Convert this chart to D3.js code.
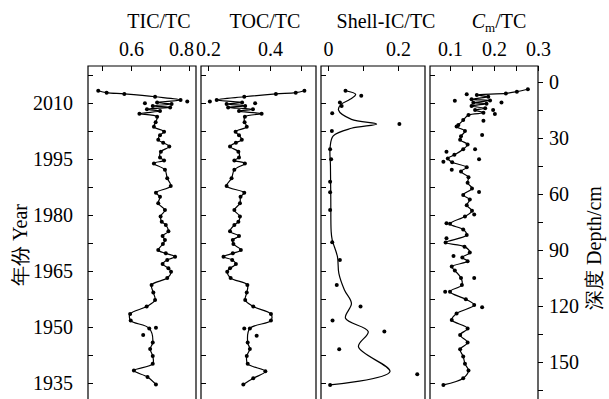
<!DOCTYPE html>
<html>
<head>
<meta charset="utf-8">
<script src="https://cdn.jsdelivr.net/npm/d3@7"></script>
<style>
  body { margin: 0; background: #fff; }
  svg text { font-family: "Liberation Serif", "Times New Roman", serif; fill: #000; }
</style>
</head>
<body>
<div id="chart"></div>
<script>
// depth (cm) of each sample on the line, and its value
const ticDepth = [4.7, 5.7, 6.4, 7.9, 9.6, 11.0, 11.8, 12.8, 13.6, 14.6, 15.6, 17.0, 18.6, 21.5, 24.0, 26.6, 28.5, 31.0, 32.5, 34.6, 37.3, 40.5, 42.0, 43.6, 47.0, 51.6, 55.7, 59.3, 61.5, 65.0, 68.6, 72.0, 74.8, 76.6, 80.0, 82.5, 84.6, 86.8, 90.0, 91.8, 93.6, 95.3, 97.5, 99.8, 101.6, 105.0, 108.7, 112.8, 116.8, 120.3, 124.3, 127.8, 132.0, 139.6, 143.0, 146.8, 151.0, 154.6, 158.0, 162.0]
const ticValue = [0.487, 0.516, 0.577, 0.683, 0.771, 0.69, 0.74, 0.675, 0.735, 0.655, 0.70, 0.629, 0.69, 0.685, 0.679, 0.714, 0.70, 0.694, 0.711, 0.732, 0.703, 0.70, 0.714, 0.679, 0.717, 0.725, 0.737, 0.686, 0.70, 0.694, 0.717, 0.702, 0.706, 0.72, 0.729, 0.709, 0.717, 0.71, 0.694, 0.72, 0.752, 0.725, 0.709, 0.729, 0.738, 0.725, 0.671, 0.677, 0.683, 0.654, 0.597, 0.599, 0.663, 0.675, 0.666, 0.675, 0.675, 0.61, 0.657, 0.686]
const ticOutDepth = [10.5, 11.4, 131.6, 135.5]
const ticOutValue = [0.794, 0.648, 0.686, 0.642]

const tocDepth = [4.7, 5.7, 6.4, 7.9, 9.6, 11.0, 11.8, 12.8, 13.6, 14.6, 15.6, 17.0, 18.6, 21.5, 24.0, 26.6, 28.5, 31.0, 32.5, 34.6, 37.3, 40.5, 42.0, 43.6, 47.0, 51.6, 55.7, 59.3, 61.5, 65.0, 68.6, 72.0, 74.8, 76.6, 80.0, 82.5, 84.6, 86.8, 90.0, 91.8, 93.6, 95.3, 97.5, 99.8, 101.6, 105.0, 108.7, 112.8, 116.8, 120.3, 124.3, 127.8, 132.0, 139.6, 143.0, 146.8, 151.0, 155.0, 158.7, 162.0]
const tocValue = [0.511, 0.483, 0.419, 0.317, 0.228, 0.31, 0.26, 0.32, 0.265, 0.345, 0.30, 0.373, 0.319, 0.318, 0.325, 0.289, 0.30, 0.309, 0.29, 0.271, 0.298, 0.30, 0.285, 0.319, 0.285, 0.276, 0.26, 0.317, 0.305, 0.303, 0.285, 0.303, 0.298, 0.285, 0.271, 0.30, 0.28, 0.282, 0.306, 0.28, 0.25, 0.278, 0.29, 0.271, 0.262, 0.273, 0.327, 0.325, 0.32, 0.346, 0.403, 0.403, 0.335, 0.328, 0.335, 0.325, 0.328, 0.385, 0.346, 0.314]
const tocOutDepth = [10.5, 11.4, 132.0, 135.9]
const tocOutValue = [0.206, 0.352, 0.317, 0.357]

// shell-IC: measured points and the smoothed curve
const shellDepth = [4.7, 7.3, 11.0, 12.9, 16.8, 22.5, 26.3, 36.0, 41.4, 53.4, 59.0, 68.6, 85.9, 95.4, 108.7, 120.3, 127.8, 133.7, 143.2, 156.6, 162.3]
const shellValue = [0.05, 0.095, 0.034, 0.039, 0.012, 0.204, 0.011, 0.006, 0.009, 0.006, 0.006, 0.006, 0.012, 0.034, 0.025, 0.093, 0.013, 0.161, 0.032, 0.255, 0.006]
const shellCurveDepth = [4.7, 6.6, 9.3, 12.0, 15.0, 20.0, 22.5, 24.8, 28.9, 35.0, 45.0, 63.0, 80.0, 84.6, 93.6, 102.5, 111.4, 118.6, 126.6, 133.7, 141.8, 155.2, 162.3]
const shellCurveValue = [0.05, 0.079, 0.063, 0.037, 0.03, 0.067, 0.139, 0.067, 0.015, 0.006, 0.007, 0.008, 0.009, 0.012, 0.027, 0.031, 0.047, 0.067, 0.05, 0.115, 0.087, 0.177, 0.006]

const cmDepth = [3.9, 5.2, 6.1, 7.0, 7.9, 9.3, 9.9, 11.1, 11.6, 12.9, 14.1, 15.0, 16.5, 17.7, 20.4, 23.0, 23.9, 26.3, 29.0, 31.0, 33.5, 36.0, 39.0, 41.0, 43.0, 45.7, 48.0, 51.0, 54.0, 57.0, 60.5, 63.0, 66.0, 69.0, 72.0, 76.0, 79.0, 82.0, 86.0, 88.2, 91.4, 94.0, 96.0, 98.9, 101.0, 105.0, 108.7, 112.3, 116.4, 119.5, 124.0, 127.5, 132.0, 135.5, 139.6, 143.2, 147.0, 151.0, 154.6, 158.7, 162.3]
const cmValue = [0.277, 0.252, 0.227, 0.161, 0.187, 0.149, 0.191, 0.153, 0.183, 0.149, 0.18, 0.157, 0.176, 0.142, 0.13, 0.119, 0.115, 0.134, 0.125, 0.123, 0.14, 0.13, 0.11, 0.095, 0.105, 0.138, 0.125, 0.142, 0.14, 0.15, 0.13, 0.145, 0.138, 0.15, 0.134, 0.10, 0.13, 0.138, 0.09, 0.133, 0.145, 0.128, 0.14, 0.104, 0.111, 0.125, 0.127, 0.10, 0.136, 0.155, 0.115, 0.104, 0.14, 0.123, 0.14, 0.123, 0.13, 0.134, 0.142, 0.13, 0.085]
const cmOutDepth = [6.6, 10.0, 11.0, 15.0, 17.1, 20.7, 28.4, 36.0, 37.3, 41.4, 42.7, 47.0, 58.9, 71.0, 75.7, 83.7, 93.2, 105.0, 112.3, 120.7]
const cmOutValue = [0.138, 0.111, 0.217, 0.198, 0.202, 0.176, 0.173, 0.157, 0.092, 0.166, 0.085, 0.104, 0.166, 0.155, 0.092, 0.092, 0.108, 0.155, 0.089, 0.173]

const yearTicks = [2010, 1995, 1980, 1965, 1950, 1935]
const depthTicks = [0, 30, 60, 90, 120, 150]

const width = 609, height = 399
const frameTop = 66

const svg = d3.select('#chart').append('svg')
    .attr('width', width)
    .attr('height', height)

const y = d3.scaleLinear().domain([0, 150]).range([82, 362])
const yYear = d3.scaleLinear().domain([2010, 1935]).range([103, 383])

const zip = (a, b) => a.map((d, i) => [d, b[i]])

const panels = [
    { x0: 88, x1: 196, dom: [0.5, 0.8], rng: [102, 189], ticks: [0.5, 0.6, 0.7, 0.8], labels: [0.6, 0.8],
      title: 'TIC/TC', tx: 159,
      line: zip(ticDepth, ticValue), dots: zip(ticDepth, ticValue).concat(zip(ticOutDepth, ticOutValue)) },
    { x0: 201, x1: 316, dom: [0.2, 0.4], rng: [208, 270], ticks: [0.2, 0.3, 0.4, 0.5], labels: [0.2, 0.4],
      title: 'TOC/TC', tx: 265,
      line: zip(tocDepth, tocValue), dots: zip(tocDepth, tocValue).concat(zip(tocOutDepth, tocOutValue)) },
    { x0: 321, x1: 425, dom: [0, 0.2], rng: [328, 398], ticks: [0, 0.1, 0.2], labels: [0, 0.2],
      title: 'Shell-IC/TC', tx: 386,
      line: zip(shellCurveDepth, shellCurveValue), dots: zip(shellDepth, shellValue) },
    { x0: 430, x1: 538, dom: [0.1, 0.3], rng: [450, 538], ticks: [0.1, 0.15, 0.2, 0.25, 0.3], labels: [0.1, 0.2, 0.3],
      title: 'Cm/TC', tx: 499,
      line: zip(cmDepth, cmValue), dots: zip(cmDepth, cmValue).concat(zip(cmOutDepth, cmOutValue)) },
]

panels.forEach((p, k) => {
    const x = d3.scaleLinear().domain(p.dom).range(p.rng)
    const g = svg.append('g')

    // frame, open at the bottom
    g.append('path')
        .attr('d', `M${p.x0},${height + 5}V${frameTop}H${p.x1}V${height + 5}`)
        .attr('fill', 'none')
        .attr('stroke', '#000')
        .attr('stroke-width', 1.2)

    const ax = g.append('g')
        .attr('transform', `translate(0,${frameTop})`)
        .call(d3.axisTop(x).tickValues(p.ticks).tickSize(-5).tickPadding(10)
            .tickFormat(d => p.labels.includes(d) ? d3.format('.1~f')(d) : ''))
    ax.select('.domain').remove()
    ax.selectAll('line').attr('stroke-width', 1)
    ax.selectAll('text').attr('font-size', 20).style('font-family', '"Liberation Serif", serif')
    if (k === 0) ax.selectAll('text').filter(d => d === 0.8).attr('dx', -8)

    // year ticks on the left edge of every panel
    const yt = g.append('g')
        .attr('transform', `translate(${p.x0},0)`)
        .call(d3.axisLeft(yYear).tickValues(d3.range(2017.5, 1927, -7.5)).tickSize(-5).tickFormat(''))
    yt.select('.domain').remove()

    const line = d3.line()
        .x(d => x(d[1]))
        .y(d => y(d[0]))
        .curve(d3.curveCatmullRom.alpha(0.5))

    g.append('path')
        .datum(p.line)
        .attr('d', line)
        .attr('fill', 'none')
        .attr('stroke', '#000')
        .attr('stroke-width', 1.2)

    g.selectAll('circle')
        .data(p.dots)
        .enter().append('circle')
        .attr('cx', d => x(d[1]))
        .attr('cy', d => y(d[0]))
        .attr('r', 2)
        .attr('fill', '#000')

    const t = svg.append('text')
        .attr('x', p.tx)
        .attr('y', 28)
        .attr('text-anchor', 'middle')
        .attr('font-size', 20)
    if (p.title === 'Cm/TC') {
        t.append('tspan').attr('font-style', 'italic').text('C')
        t.append('tspan').attr('font-size', 13).attr('dy', 4).text('m')
        t.append('tspan').attr('dy', -4).text('/TC')
    } else {
        t.text(p.title)
    }
})

// year labels on the left
const yl = svg.append('g')
    .attr('transform', 'translate(88,0)')
    .call(d3.axisLeft(yYear).tickValues(yearTicks).tickSize(0).tickPadding(15).tickFormat(d3.format('d')))
yl.select('.domain').remove()
yl.selectAll('text').attr('font-size', 20).style('font-family', '"Liberation Serif", serif')

// depth axis on the right, ticks outward
const yr = svg.append('g')
    .attr('transform', 'translate(538,0)')
    .call(d3.axisRight(y).tickValues(d3.range(0, 166, 15)).tickSize(5).tickPadding(6)
        .tickFormat(d => depthTicks.includes(d) ? d : ''))
yr.select('.domain').remove()
yr.selectAll('text').attr('font-size', 20).style('font-family', '"Liberation Serif", serif')

svg.append('text')
    .attr('transform', 'translate(27,245) rotate(-90)')
    .attr('text-anchor', 'middle')
    .attr('font-size', 20)
    .text('年份 Year')

svg.append('text')
    .attr('transform', 'translate(601,248) rotate(-90)')
    .attr('text-anchor', 'middle')
    .attr('font-size', 20)
    .text('深度 Depth/cm')
</script>
</body>
</html>
